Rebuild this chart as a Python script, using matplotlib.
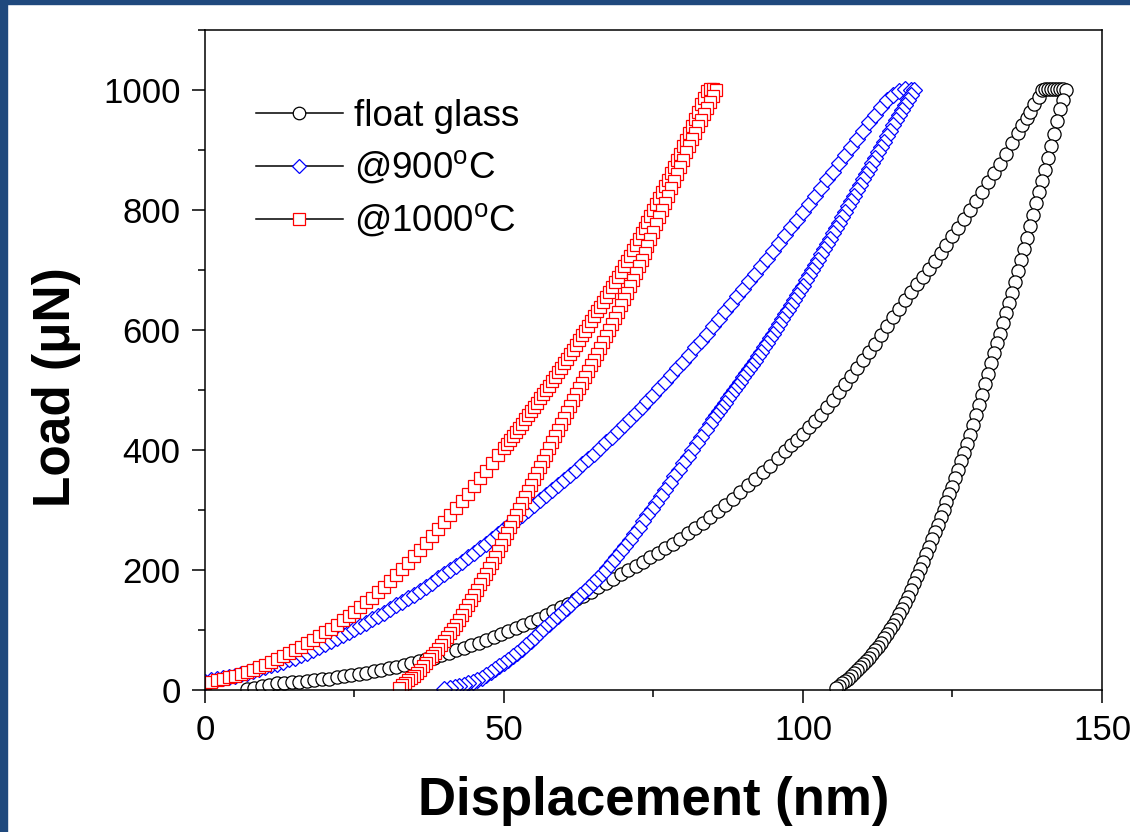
"""Nanoindentation load-displacement curves: float glass vs. annealed samples"""

import matplotlib
matplotlib.use("Agg")
import matplotlib.pyplot as plt
from matplotlib.lines import Line2D
from matplotlib.patches import Rectangle
from matplotlib.ticker import MultipleLocator

plt.rcParams["font.family"] = ["Liberation Sans", "DejaVu Sans"]
plt.rcParams["mathtext.fontset"] = "custom"
plt.rcParams["mathtext.rm"] = "Liberation Sans"

# ---- data: (displacement nm, load uN) ----
FLOAT_LOADING = [
    (7, 2), (8.25, 4), (9.5, 7), (10.75, 9), (12, 11), (13.25, 12), (14.5, 13), (15.75, 14),
    (17, 15), (18.25, 16), (19.5, 18), (20.75, 19), (22, 21), (23.25, 23), (24.5, 25),
    (25.75, 27), (27, 29), (28.25, 31), (29.5, 33), (30.75, 36), (32, 39), (33.25, 42),
    (34.5, 45), (35.75, 48), (37, 51), (38.25, 54), (39.5, 58), (40.75, 62), (42, 66),
    (43.25, 70), (44.5, 75), (45.75, 79), (47, 84), (48.25, 88), (49.5, 93), (50.75, 98),
    (52, 103), (53.25, 108), (54.5, 113), (55.75, 119), (57, 125), (58.25, 131), (59.5, 138),
    (60.75, 144), (62, 151), (63.25, 157), (64.5, 164), (65.75, 171), (67, 178), (68.25, 185),
    (69.5, 193), (70.75, 200), (72, 207), (73.25, 214), (74.5, 221), (75.75, 228), (77, 236),
    (78.25, 244), (79.5, 252), (80.75, 261), (82, 270), (83.25, 279), (84.5, 289), (85.75, 299),
    (87, 309), (88.25, 319), (89.5, 330), (90.75, 341), (92, 352), (93.25, 363), (94.5, 374),
    (95.75, 386), (97, 398), (98, 408), (99, 417), (100, 427), (101, 438), (102, 448), (103, 459),
    (104, 471), (105, 484), (106, 497), (107, 510), (108, 523), (109, 536), (110, 550),
    (111, 563), (112, 577), (113, 592), (114, 606), (115, 621), (116, 635), (117, 650),
    (118, 664), (119, 677), (120, 689), (121, 702), (122, 715), (123, 728), (124, 741),
    (125, 756), (126, 770), (127, 785), (128, 800), (129, 815), (130, 830), (131, 846),
    (132, 861), (133, 877), (134, 894), (135, 912), (136, 929), (136.7, 941), (137.4, 953),
    (138, 964), (138.7, 977), (139.4, 989), (140, 1000), (140.5, 1001), (141, 1001),
    (141.5, 1001), (142, 1002), (142.5, 1002), (143, 1002), (143.5, 1002),
]
FLOAT_UNLOADING = [
    (144, 1000), (143.5, 984), (143, 968), (142.5, 948), (142, 927), (141.5, 906), (141, 886),
    (140.5, 867), (140, 849), (139.5, 830), (139, 811), (138.5, 792), (138, 773), (137.5, 754),
    (137, 735), (136.5, 716), (136, 698), (135.5, 680), (135, 662), (134.5, 645), (134, 628),
    (133.5, 611), (133, 594), (132.5, 578), (132, 562), (131.5, 545), (131, 527), (130.5, 510),
    (130, 492), (129.5, 475), (129, 458), (128.5, 441), (128, 425), (127.5, 410), (127, 395),
    (126.5, 381), (126, 367), (125.5, 353), (125, 339), (124.5, 326), (124, 313), (123.5, 300),
    (123, 288), (122.5, 275), (122, 263), (121.5, 251), (121, 239), (120.5, 226), (120, 214),
    (119.5, 202), (119, 190), (118.5, 178), (118, 166), (117.5, 155), (117, 145), (116.5, 135),
    (116, 126), (115.5, 117), (115, 109), (114.5, 101), (114, 93), (113.5, 86), (113, 79),
    (112.5, 72), (112, 66), (111.5, 60), (111, 54), (110.5, 48), (110, 43), (109.5, 38),
    (109, 33), (108.5, 28), (108, 24), (107.5, 19), (107, 15), (106.5, 11), (106, 7), (105.6, 3),
]

T900_LOADING = [
    (0, 14), (1, 16), (2, 18), (3, 20), (4, 22), (5, 24), (6, 27), (7, 29), (8, 32), (9, 35),
    (10, 38), (11, 41), (12, 44), (13, 47), (14, 51), (15, 54), (16, 58), (17, 62), (18, 67),
    (19, 71), (20, 76), (21, 81), (22, 86), (23, 91), (24, 96), (25, 101), (26, 107), (27, 112),
    (28, 118), (29, 123), (30, 129), (31, 135), (32, 141), (33, 147), (34, 153), (35, 159),
    (36, 165), (37, 172), (38, 179), (39, 186), (40, 193), (41, 200), (42, 207), (43, 214),
    (44, 222), (45, 229), (46, 237), (47, 244), (48, 252), (49, 260), (50, 268), (51, 276),
    (52, 284), (53, 292), (54, 300), (55, 308), (56, 316), (57, 325), (58, 333), (59, 341),
    (60, 350), (61, 359), (62, 367), (63, 376), (64, 385), (65, 394), (66, 403), (67, 413),
    (68, 422), (69, 432), (70, 441), (71, 451), (72, 461), (73, 471), (74, 482), (75, 492),
    (76, 503), (77, 514), (78, 525), (79, 536), (80, 547), (81, 559), (82, 571), (83, 582),
    (84, 594), (85, 606), (86, 618), (87, 631), (88, 643), (89, 656), (90, 668), (91, 681),
    (92, 694), (93, 706), (94, 719), (95, 732), (96, 745), (97, 758), (98, 771), (99, 784),
    (100, 797), (101, 810), (102, 824), (103, 837), (104, 851), (105, 864), (106, 878),
    (107, 891), (108, 905), (109, 918), (110, 932), (111, 946), (112, 959), (113, 972),
    (114, 984), (115, 992), (116, 998), (117, 1001), (118, 1000),
]
T900_UNLOADING = [
    (118.5, 1000), (118, 992), (117.5, 983), (117, 975), (116.5, 966), (116, 958), (115.5, 950),
    (115, 941), (114.5, 932), (114, 923), (113.5, 914), (113, 905), (112.5, 896), (112, 887),
    (111.5, 878), (111, 869), (110.5, 860), (110, 851), (109.5, 842), (109, 833), (108.5, 824),
    (108, 815), (107.5, 806), (107, 797), (106.5, 788), (106, 779), (105.5, 770), (105, 761),
    (104.5, 752), (104, 743), (103.5, 735), (103, 726), (102.5, 717), (102, 708), (101.5, 700),
    (101, 691), (100.5, 683), (100, 674), (99.5, 666), (99, 658), (98.5, 650), (98, 642),
    (97.5, 634), (97, 626), (96.5, 618), (96, 610), (95.5, 602), (95, 594), (94.5, 587),
    (94, 579), (93.5, 572), (93, 564), (92.5, 557), (92, 549), (91.5, 542), (91, 535),
    (90.5, 528), (90, 521), (89.5, 514), (89, 507), (88.5, 500), (88, 493), (87.5, 486),
    (87, 479), (86.5, 472), (86, 465), (85.5, 458), (85, 451), (84.5, 444), (83.75, 433),
    (83, 422), (82.25, 411), (81.5, 400), (80.75, 389), (80, 378), (79.25, 367), (78.5, 356),
    (77.75, 345), (77, 334), (76.25, 323), (75.5, 312), (74.75, 301), (74, 291), (73.25, 281),
    (72.5, 270), (71.75, 260), (71, 250), (70.25, 240), (69.5, 231), (68.75, 222), (68, 213),
    (67.25, 203), (66.5, 195), (65.75, 187), (65, 180), (64.25, 172), (63.5, 165), (62.75, 158),
    (62, 151), (61.25, 144), (60.5, 137), (59.75, 130), (59, 124), (58.25, 117), (57.5, 110),
    (56.75, 103), (56, 96), (55.25, 89), (54.5, 82), (53.75, 75), (53, 68), (52.25, 62),
    (51.5, 56), (50.75, 50), (50, 45), (49.25, 40), (48.5, 35), (47.75, 30), (47, 25),
    (46.25, 20), (45.5, 16), (44.75, 13), (44, 11), (43.25, 9), (42.5, 7), (41.75, 5),
    (41, 4), (40, 2),
]

T1000_LOADING = [
    (0, 12), (1, 14), (2, 16), (3, 19), (4, 22), (5, 24), (6, 27), (7, 30), (8, 34), (9, 38),
    (10, 42), (11, 46), (12, 51), (13, 56), (14, 61), (15, 66), (16, 72), (17, 78), (18, 84),
    (19, 90), (20, 96), (21, 102), (22, 109), (23, 116), (24, 123), (25, 130), (26, 138),
    (27, 146), (28, 154), (29, 163), (30, 172), (31, 181), (32, 191), (33, 201), (34, 212),
    (35, 223), (36, 234), (37, 245), (38, 257), (39, 268), (40, 280), (41, 291), (42, 303),
    (43, 315), (44, 327), (45, 340), (46, 353), (47, 365), (48, 378), (49, 391), (50, 404),
    (50.5, 410), (51, 417), (51.5, 423), (52, 430), (52.5, 437), (53, 444), (53.5, 451),
    (54, 458), (54.5, 465), (55, 472), (55.5, 479), (56, 486), (56.5, 493), (57, 500),
    (57.5, 507), (58, 515), (58.5, 522), (59, 530), (59.5, 537), (60, 545), (60.5, 552),
    (61, 560), (61.5, 567), (62, 575), (62.5, 583), (63, 591), (63.5, 599), (64, 607),
    (64.5, 615), (65, 623), (65.5, 631), (66, 639), (66.5, 647), (67, 655), (67.5, 663),
    (68, 672), (68.5, 680), (69, 689), (69.5, 697), (70, 706), (70.5, 715), (71, 724),
    (71.5, 733), (72, 742), (72.5, 751), (73, 761), (73.5, 770), (74, 780), (74.5, 790),
    (75, 800), (75.5, 810), (76, 820), (76.5, 830), (77, 840), (77.5, 850), (78, 861),
    (78.5, 872), (79, 883), (79.5, 894), (80, 906), (80.5, 917), (81, 929), (81.5, 940),
    (82, 952), (82.5, 964), (83, 976), (83.5, 987), (84, 998), (84.5, 1001), (85, 1002),
]
T1000_UNLOADING = [
    (85.5, 1000), (85, 990), (84.5, 980), (84, 970), (83.5, 960), (83, 950), (82.5, 940),
    (82, 929), (81.5, 918), (81, 907), (80.5, 896), (80, 884), (79.5, 872), (79, 860),
    (78.5, 848), (78, 836), (77.5, 824), (77, 812), (76.5, 800), (76, 788), (75.5, 776),
    (75, 764), (74.5, 752), (74, 740), (73.5, 729), (73, 717), (72.5, 706), (72, 695),
    (71.5, 684), (71, 673), (70.5, 662), (70, 651), (69.5, 641), (69, 630), (68.5, 620),
    (68, 610), (67.5, 600), (67, 590), (66.5, 580), (66, 570), (65.5, 560), (65, 550),
    (64.5, 541), (64, 531), (63.5, 522), (63, 512), (62.5, 503), (62, 493), (61.5, 484),
    (61, 474), (60.5, 464), (60, 454), (59.5, 444), (59, 434), (58.5, 424), (58, 413),
    (57.5, 403), (57, 392), (56.5, 382), (56, 372), (55.5, 362), (55, 352), (54.5, 342),
    (54, 332), (53.5, 322), (53, 312), (52.5, 302), (52, 292), (51.5, 282), (51, 271),
    (50.5, 261), (50, 251), (49.5, 241), (49, 231), (48.5, 222), (48, 212), (47.5, 203),
    (47, 194), (46.5, 185), (46, 176), (45.5, 167), (45, 158), (44.5, 150), (44, 141),
    (43.5, 133), (43, 125), (42.5, 117), (42, 109), (41.5, 102), (41, 95), (40.5, 88),
    (40, 81), (39.5, 75), (39, 68), (38.5, 62), (38, 56), (37.5, 51), (37, 45), (36.5, 40),
    (36, 34), (35.5, 29), (35, 24), (34.5, 20), (34, 16), (33.5, 12), (33, 8), (32.5, 4),
]

LABELS = ["float glass", "@900$^{\\mathrm{o}}$C", "@1000$^{\\mathrm{o}}$C"]
MARKERS = ["o", "D", "s"]
MARKER_SIZES = [9.5, 8.0, 9.0]
COLORS = ["#000000", "#0000FF", "#FF0000"]

SERIES = [FLOAT_LOADING + FLOAT_UNLOADING,
          T900_LOADING + T900_UNLOADING,
          T1000_LOADING + T1000_UNLOADING]

fig = plt.figure(figsize=(11.3, 8.32), dpi=100)
# dark blue slide frame on the left and top
fig.patches.append(Rectangle((0, 0), 7 / 1130, 1, transform=fig.transFigure,
                             color="#1F497D", zorder=0))
fig.patches.append(Rectangle((0, 1 - 4 / 832), 1, 4 / 832, transform=fig.transFigure,
                             color="#1F497D", zorder=0))

ax = fig.add_axes([0.1814, 0.1707, 0.7938, 0.7932])

for pts, mk, ms, c in zip(SERIES, MARKERS, MARKER_SIZES, COLORS):
    h = [p[0] for p in pts]
    load = [p[1] for p in pts]
    ax.plot(h, load, linestyle="none", marker=mk, markersize=ms, markerfacecolor="white",
            markeredgecolor=c, markeredgewidth=0.9)

ax.set_xlim(0, 150)
ax.set_ylim(0, 1100)
ax.xaxis.set_major_locator(MultipleLocator(50))
ax.xaxis.set_minor_locator(MultipleLocator(25))
ax.yaxis.set_minor_locator(MultipleLocator(100))
ax.set_yticks([0, 200, 400, 600, 800, 1000])
ax.tick_params(which="major", direction="out", length=9.5, width=1.1, labelsize=25, pad=8)
ax.tick_params(which="minor", direction="out", length=5, width=1.1)
for s in ax.spines.values():
    s.set_linewidth(1.1)

ax.set_xlabel("Displacement (nm)", fontsize=38, fontweight="bold", labelpad=21)
ax.set_ylabel("Load (μN)", fontsize=37, fontweight="bold")
ax.yaxis.set_label_coords(-0.138, 0.459)

handles = [Line2D([0], [0], color="black", lw=1.1, marker=mk, markersize=ms * 0.95,
                  markerfacecolor="white", markeredgecolor=c, markeredgewidth=0.9)
           for mk, ms, c in zip(MARKERS, MARKER_SIZES, COLORS)]
ax.legend(handles, LABELS, loc="upper left", bbox_to_anchor=(0.057, 0.896), frameon=False,
          fontsize=26.5, handlelength=2.35, handletextpad=0.3, labelspacing=0.42, borderpad=0,
          borderaxespad=0)

fig.savefig("out.png", dpi=100)
plt.close(fig)
